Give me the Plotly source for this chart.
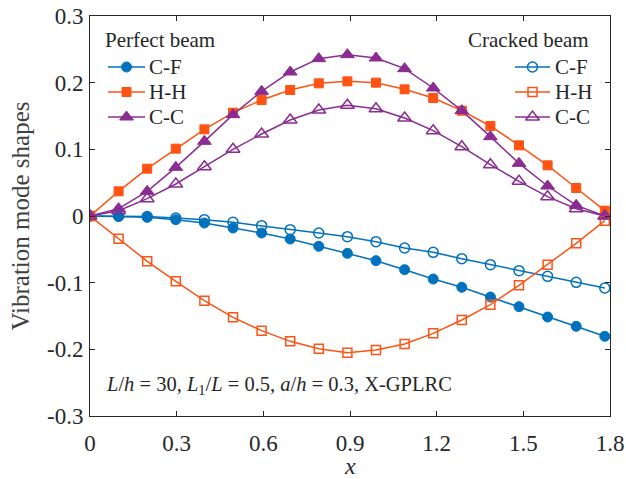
import plotly.graph_objects as go

x = [i * 0.099 for i in range(19)]

perfect_cf = [0, -0.0005, -0.002, -0.0055, -0.0105, -0.018, -0.0255, -0.0345, -0.0455, -0.056,
              -0.067, -0.0805, -0.0945, -0.107, -0.1215, -0.136, -0.1515, -0.1655, -0.1805]
perfect_hh = [0, 0.037, 0.071, 0.101, 0.130, 0.155, 0.174, 0.189, 0.199, 0.202,
              0.200, 0.190, 0.177, 0.158, 0.135, 0.106, 0.076, 0.042, 0.008]
perfect_cc = [0, 0.011, 0.037, 0.073, 0.112, 0.152, 0.187, 0.216, 0.236, 0.242,
              0.237, 0.221, 0.192, 0.158, 0.119, 0.079, 0.045, 0.016, 0]
cracked_cf = [0, -0.0003, -0.0008, -0.003, -0.0055, -0.0095, -0.0145, -0.0205, -0.0255, -0.031,
              -0.0385, -0.048, -0.0545, -0.064, -0.073, -0.082, -0.0905, -0.0995, -0.108]
cracked_hh = [0, -0.034, -0.068, -0.098, -0.127, -0.152, -0.172, -0.188, -0.199, -0.205,
              -0.201, -0.192, -0.176, -0.156, -0.133, -0.104, -0.073, -0.041, -0.007]
cracked_cc = [0, 0.008, 0.026, 0.048, 0.074, 0.100, 0.123, 0.144, 0.159, 0.166,
              0.161, 0.147, 0.128, 0.104, 0.077, 0.052, 0.029, 0.011, 0]

series_names = ["C-F", "H-H", "C-C"]
x_ticks = [0, 0.3, 0.6, 0.9, 1.2, 1.5, 1.8]
x_ticklabels = ["0", "0.3", "0.6", "0.9", "1.2", "1.5", "1.8"]
y_ticks = [0.3, 0.2, 0.1, 0, -0.1, -0.2, -0.3]
y_ticklabels = ["0.3", "0.2", "0.1", "0", "-0.1", "-0.2", "-0.3"]

BLUE = "#0072BD"
ORANGE = "#FF5314"
PURPLE = "#8A2C92"
FONT = "Liberation Serif, Times New Roman, serif"
TXT = "#262626"

fig = go.Figure()

perfect = [perfect_cf, perfect_hh, perfect_cc]
cracked = [cracked_cf, cracked_hh, cracked_cc]
colors = [BLUE, ORANGE, PURPLE]
symbols = ["circle", "square", "triangle-up"]
sizes = [10, 9, 12]

for name, ys, c, s, sz in zip(series_names, perfect, colors, symbols, sizes):
    fig.add_trace(go.Scatter(
        x=x, y=ys, name=name, mode="lines+markers", showlegend=False,
        line=dict(color=c, width=1.5),
        marker=dict(symbol=s, size=sz, color=c, line=dict(color=c, width=1)),
    ))

for name, ys, c, s, sz in zip(series_names, cracked, colors, symbols, sizes):
    fig.add_trace(go.Scatter(
        x=x, y=ys, name=name, mode="lines+markers", showlegend=False,
        line=dict(color=c, width=1.5),
        marker=dict(symbol=s + "-open", size=sz, color=c, line=dict(color=c, width=1.5)),
    ))

# Manual legend keys on an overlay axis measured in plot-area pixels
legend_rows = [51, 76, 101]
annotations = []
for col, (x0, x1, tx, filled) in enumerate([(18, 55, 57, True), (425, 460, 463, False)]):
    for row_y, name, c, s, sz in zip(legend_rows, series_names, colors, symbols, sizes):
        fig.add_trace(go.Scatter(
            x=[x0, x1], y=[row_y, row_y], mode="lines", xaxis="x2", yaxis="y2",
            showlegend=False, hoverinfo="skip", line=dict(color=c, width=1.5)))
        fig.add_trace(go.Scatter(
            x=[(x0 + x1) / 2], y=[row_y], mode="markers", xaxis="x2", yaxis="y2",
            showlegend=False, hoverinfo="skip",
            marker=dict(symbol=s if filled else s + "-open", size=sz, color=c,
                        line=dict(color=c, width=1 if filled else 1.5))))
        annotations.append(dict(text=name, x=tx, y=row_y, xref="x2", yref="y2",
                                xanchor="left", yanchor="middle", showarrow=False,
                                font=dict(family=FONT, size=21, color=TXT)))

annotations += [
    dict(text="Perfect beam", x=12.5, y=24, xref="x2", yref="y2",
         xanchor="left", yanchor="middle", showarrow=False,
         font=dict(family=FONT, size=21, color=TXT)),
    dict(text="Cracked beam", x=501, y=24, xref="x2", yref="y2",
         xanchor="right", yanchor="middle", showarrow=False,
         font=dict(family=FONT, size=21, color=TXT)),
    dict(text="<i>L</i>/<i>h</i> = 30, <i>L</i><sub>1</sub>/<i>L</i> = 0.5, <i>a</i>/<i>h</i> = 0.3, X-GPLRC",
         x=14, y=369, xref="x2", yref="y2",
         xanchor="left", yanchor="middle", showarrow=False,
         font=dict(family=FONT, size=20.5, color=TXT)),
    dict(text="<i>x</i>", x=0.5, y=-0.125, xref="paper", yref="paper",
         xanchor="center", yanchor="middle", showarrow=False, borderpad=0,
         font=dict(family=FONT, size=24, color=TXT)),
]

axis_common = dict(
    showgrid=False, zeroline=False, showline=True, mirror="ticks",
    linecolor=TXT, linewidth=1, ticks="inside", ticklen=5, automargin=False,
    tickcolor=TXT, tickfont=dict(family=FONT, size=23, color=TXT),
)

fig.update_layout(
    width=626, height=479,
    margin=dict(l=90, r=16, t=16, b=63, autoexpand=False),
    paper_bgcolor="white", plot_bgcolor="white",
    font=dict(family=FONT, color=TXT),
    showlegend=False,
    xaxis=dict(range=[0, 1.8], tickvals=x_ticks, ticktext=x_ticklabels,
               ticklabelstandoff=6,
               **axis_common),
    yaxis=dict(range=[-0.3, 0.3], tickvals=y_ticks, ticktext=y_ticklabels,
               ticklabelstandoff=1,
               title=dict(text="Vibration mode shapes", font=dict(family=FONT, size=25, color="#404040"),
                          standoff=10),
               **axis_common),
    xaxis2=dict(overlaying="x", range=[0, 520], visible=False, fixedrange=True),
    yaxis2=dict(overlaying="y", range=[400, 0], visible=False, fixedrange=True),
    annotations=annotations,
)

fig.write_html("out.html")
